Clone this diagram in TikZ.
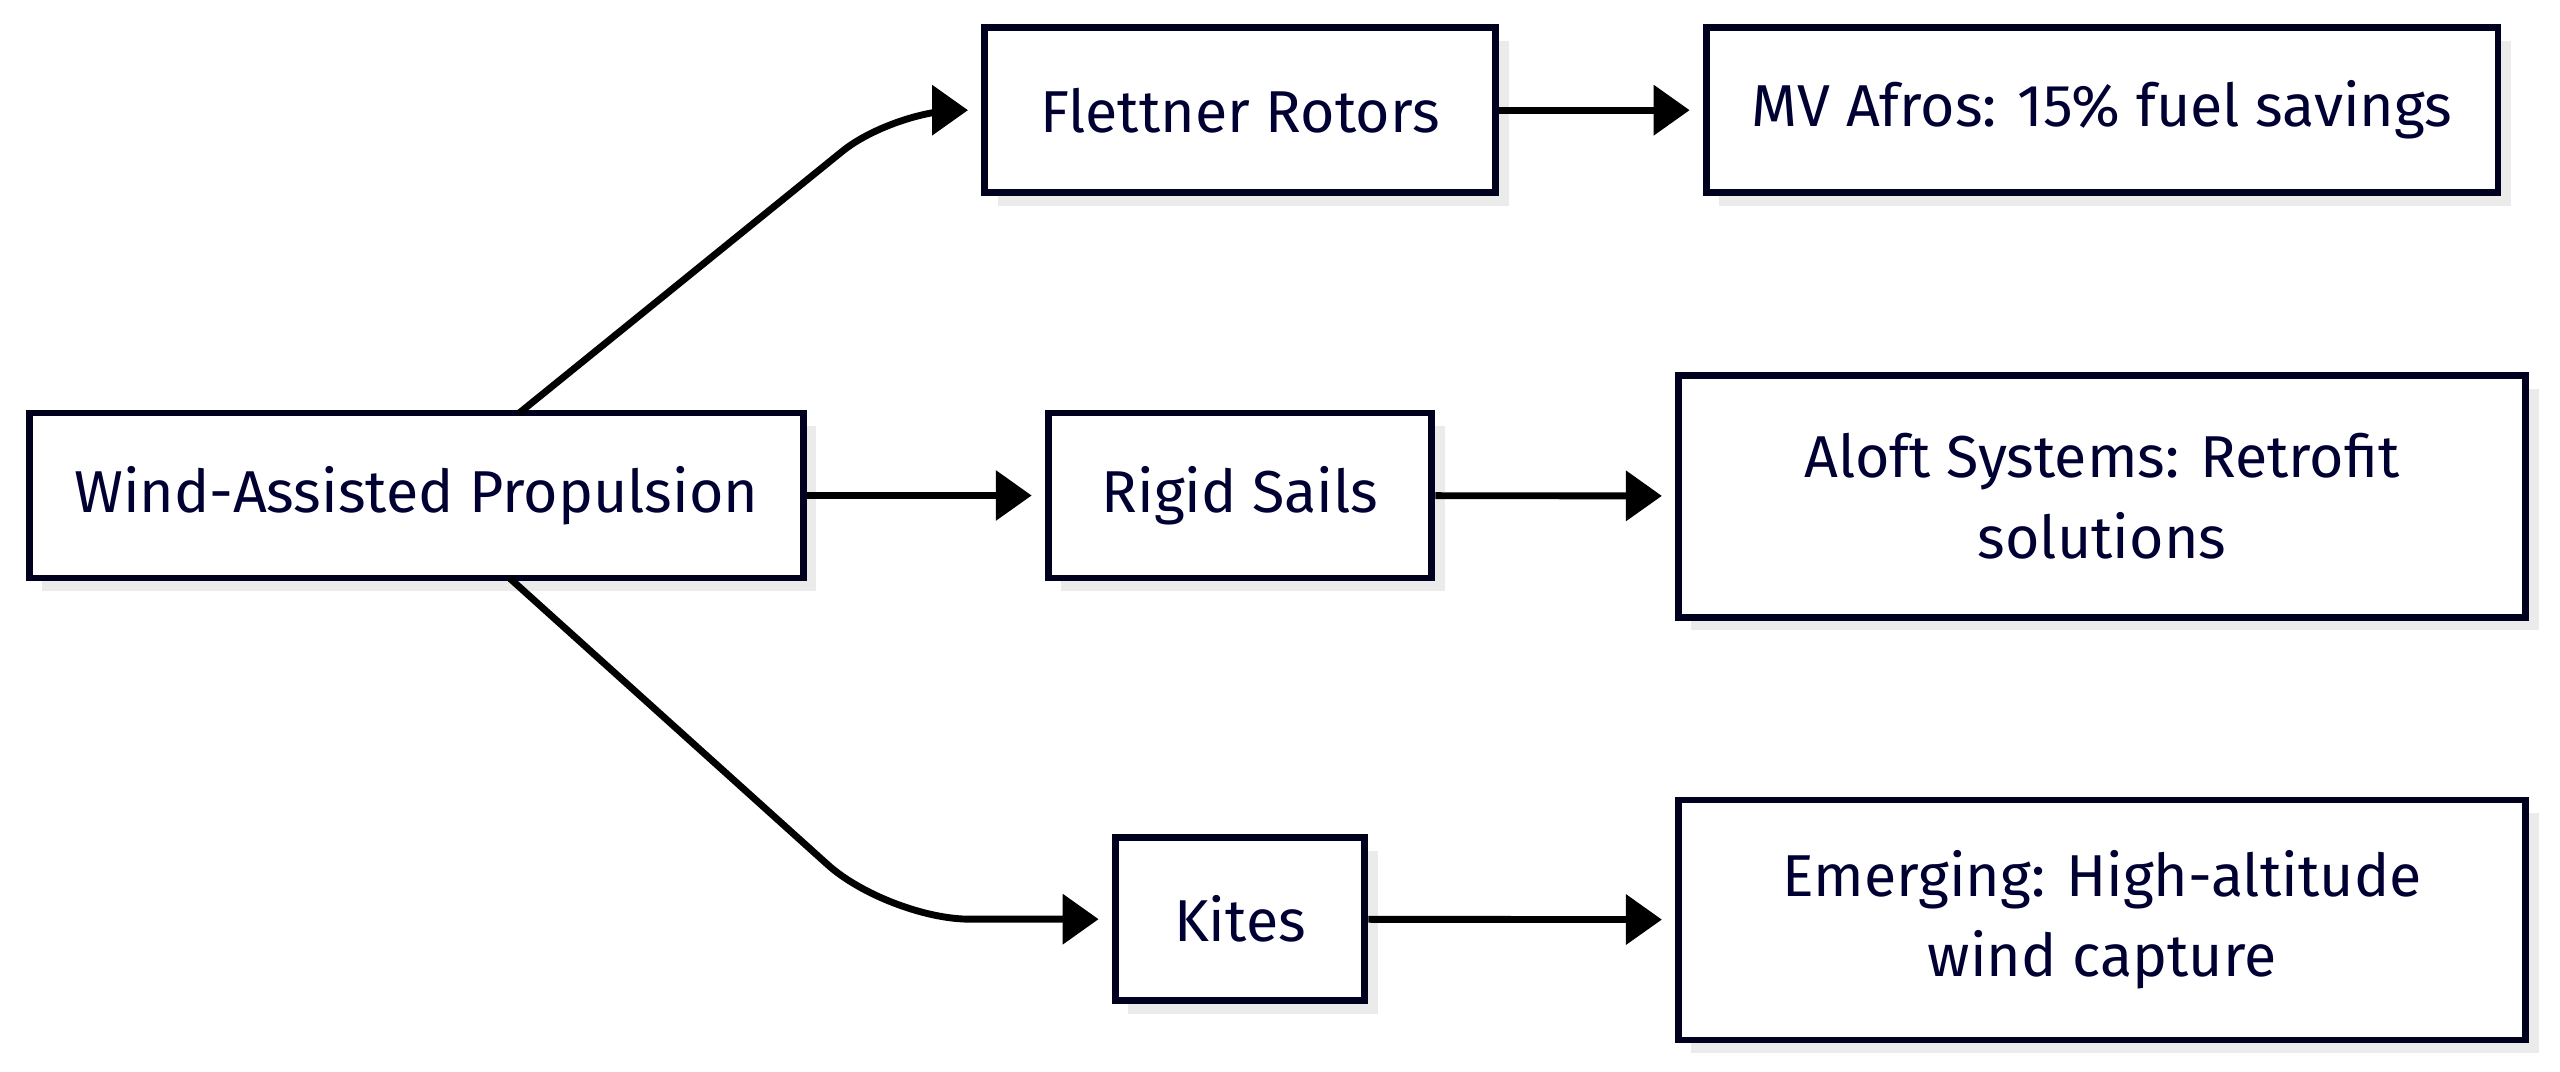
\documentclass[tikz,border=0pt]{standalone}
\usepackage{fontspec}
\setmainfont{Fira Sans}
\usetikzlibrary{positioning, arrows.meta}

\tikzset{
  box/.style={draw=black!80!blue!60!black, line width=1.2pt, fill=white, align=center,
    font=\fontsize{10.3}{14}\selectfont\color{black!80!blue}},
  shadow/.style={fill=black!8, draw=none},
  link/.style={line width=1.2pt, -{Triangle[length=0.22cm, width=0.3cm]}, shorten >=0.08cm}
}

\newcommand{\shadowbox}[5]{% name, cx, cy, w, h
  \fill[shadow] ({#2-#4/2+0.08},{#3-#5/2-0.08}) rectangle ({#2+#4/2+0.08},{#3+#5/2-0.08});
  \node[box, minimum width=#4cm, minimum height=#5cm] (#1) at (#2,#3)}

\begin{document}
\begin{tikzpicture}
  \useasboundingbox (0,0) rectangle (15.68,-6.56);

  % boxes with shadows
  \shadowbox{wind}{2.55}{-3.035}{4.74}{1.01} {Wind-Assisted Propulsion};
  \shadowbox{flett}{7.595}{-0.675}{3.13}{1.01} {Flettner Rotors};
  \shadowbox{rigid}{7.595}{-3.035}{2.35}{1.01} {Rigid Sails};
  \shadowbox{kites}{7.595}{-5.63}{1.53}{1.0} {Kites};
  \shadowbox{afros}{12.875}{-0.675}{4.85}{1.01} {MV Afros: 15\% fuel savings};
  \shadowbox{aloft}{12.875}{-3.04}{5.19}{1.48} {Aloft Systems: Retrofit\\solutions};
  \shadowbox{emerg}{12.875}{-5.635}{5.19}{1.47} {Emerging: High-altitude\\wind capture};

  % connectors
  \coordinate (wtop) at (3.18,-2.53);
  \coordinate (wbot) at (3.12,-3.54);
  \draw[link, rounded corners=0.4cm] (wtop) -- (5.47,-0.675) -- (flett.west);
  \draw[link] (wind) -- (rigid);
  \draw[link, rounded corners=0.5cm] (wbot) -- (5.44,-5.63) -- (kites.west);
  \draw[link] (flett) -- (afros);
  \draw[link] (rigid) -- (aloft);
  \draw[link] (kites) -- (emerg);
\end{tikzpicture}
\end{document}
